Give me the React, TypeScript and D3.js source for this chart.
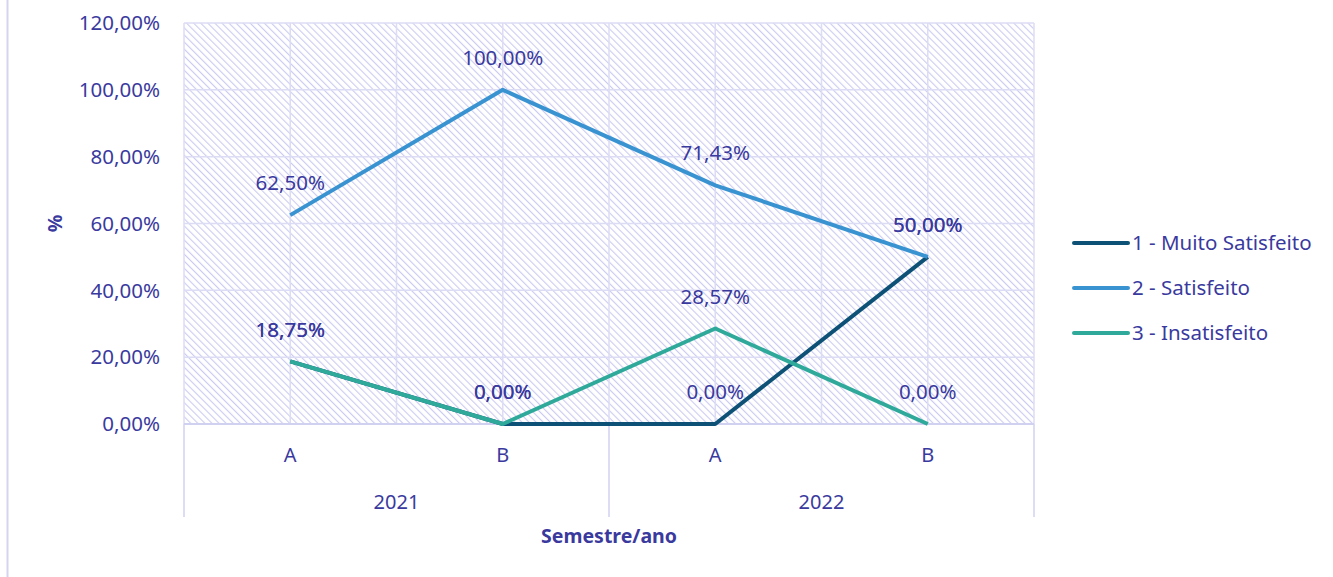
import React from "react";
import * as d3 from "d3";

const years = ["2021", "2022"];
const semesters = ["A", "B"];
const categories = ["2021-A", "2021-B", "2022-A", "2022-B"];
const muitoSatisfeito = [18.75, 0, 0, 50];
const satisfeito = [62.5, 100, 71.43, 50];
const insatisfeito = [18.75, 0, 28.57, 0];
const yTicks = [0, 20, 40, 60, 80, 100, 120];

const series = [
  { name: "1 - Muito Satisfeito", values: muitoSatisfeito, color: "#0d5276" },
  { name: "2 - Satisfeito", values: satisfeito, color: "#3a93d1" },
  { name: "3 - Insatisfeito", values: insatisfeito, color: "#2fa99a" },
];

const textColor = "#3a3a9e";
const gridColor = "#dcdcf5";
const font = "'Noto Sans', sans-serif";

const fmt = (v: number) => v.toFixed(2).replace(".", ",") + "%";

export default function App() {
  const width = 1333;
  const height = 577;
  const plot = { left: 184, right: 1034, top: 23, bottom: 424 };

  const x = d3
    .scaleBand<string>()
    .domain(categories)
    .range([plot.left, plot.right])
    .padding(0);
  const y = d3.scaleLinear().domain([0, 120]).range([plot.bottom, plot.top]);
  const cx = (c: string) => x(c)! + x.bandwidth() / 2;

  const line = d3
    .line<number>()
    .x((_, i) => cx(categories[i]))
    .y((d) => y(d));

  // vertical gridlines at band centers and band edges
  const vLines: number[] = [];
  categories.forEach((c) => {
    vLines.push(x(c)!);
    vLines.push(cx(c));
  });
  vLines.push(plot.right);

  const yearWidth = (plot.right - plot.left) / years.length;

  return (
    <svg
      width={width}
      height={height}
      style={{ position: "absolute", left: 0, top: 0, background: "#fff" }}
      fontFamily={font}
    >
      <defs>
        <pattern
          id="hatch"
          patternUnits="userSpaceOnUse"
          width={5}
          height={5}
          patternTransform="rotate(-45)"
        >
          <rect width={5} height={5} fill="#fff" />
          <line x1={0} y1={0} x2={0} y2={5} stroke="#cbcbf2" strokeWidth={2.2} />
        </pattern>
      </defs>

      <line x1={7.5} x2={7.5} y1={0} y2={height} stroke="#d4d4f2" strokeWidth={2} />

      <rect
        x={plot.left}
        y={plot.top}
        width={plot.right - plot.left}
        height={plot.bottom - plot.top}
        fill="url(#hatch)"
      />

      {yTicks.map((t) => (
        <line
          key={"h" + t}
          x1={plot.left}
          x2={plot.right}
          y1={y(t)}
          y2={y(t)}
          stroke={gridColor}
          strokeWidth={1.5}
        />
      ))}
      {vLines.map((v, i) => (
        <line
          key={"v" + i}
          x1={v}
          x2={v}
          y1={plot.top}
          y2={plot.bottom}
          stroke={gridColor}
          strokeWidth={1.5}
        />
      ))}

      {/* x axis */}
      <line x1={plot.left} x2={plot.right} y1={plot.bottom} y2={plot.bottom} stroke="#d0d0f0" strokeWidth={2} />
      {[0, 1, 2].map((i) => (
        <line
          key={"yt" + i}
          x1={plot.left + i * yearWidth}
          x2={plot.left + i * yearWidth}
          y1={plot.bottom}
          y2={517}
          stroke="#d0d0f0"
          strokeWidth={1.5}
        />
      ))}

      {yTicks.map((t) => (
        <text
          key={"yl" + t}
          x={160}
          y={y(t)}
          dy="0.35em"
          textAnchor="end"
          fontSize={20.5}
          fill={textColor}
        >
          {fmt(t)}
        </text>
      ))}

      {categories.map((c, i) => (
        <text key={"cl" + c} x={cx(c)} y={455} dy="0.35em" textAnchor="middle" fontSize={20} fill={textColor}>
          {semesters[i % 2]}
        </text>
      ))}
      {years.map((yr, i) => (
        <text
          key={"yr" + yr}
          x={plot.left + yearWidth * (i + 0.5)}
          y={502}
          dy="0.35em"
          textAnchor="middle"
          fontSize={20}
          fill={textColor}
        >
          {yr}
        </text>
      ))}

      <text x={609} y={536} dy="0.35em" textAnchor="middle" fontSize={19.5} fontWeight="bold" fill={textColor}>
        Semestre/ano
      </text>
      <text
        transform={`translate(55,${(plot.top + plot.bottom) / 2}) rotate(-90)`}
        dy="0.35em"
        textAnchor="middle"
        fontSize={19.5}
        fontWeight="bold"
        fill={textColor}
      >
        %
      </text>

      {series.map((s) => (
        <path
          key={s.name}
          d={line(s.values)!}
          fill="none"
          stroke={s.color}
          strokeWidth={4}
          strokeLinejoin="round"
        />
      ))}

      {series.map((s) =>
        s.values.map((v, i) => (
          <text
            key={s.name + i}
            x={cx(categories[i])}
            y={y(v) - 32}
            dy="0.35em"
            textAnchor="middle"
            fontSize={20.5}
            fill={textColor}
          >
            {fmt(v)}
          </text>
        ))
      )}

      {series.map((s, i) => (
        <g key={"lg" + s.name} transform={`translate(1074,${243 + i * 45})`}>
          <line x1={0} x2={54} y1={0} y2={0} stroke={s.color} strokeWidth={4} strokeLinecap="round" />
          <text x={58} y={0} dy="0.35em" fontSize={20.5} fill={textColor}>
            {s.name}
          </text>
        </g>
      ))}
    </svg>
  );
}
